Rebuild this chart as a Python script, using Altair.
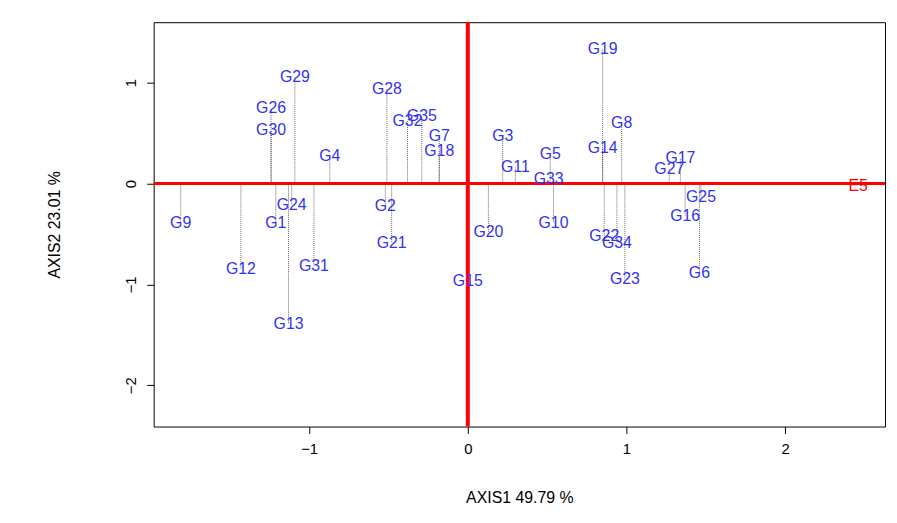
import altair as alt
import pandas as pd

labels = ["G29", "G26", "G30", "G28", "G35", "G32", "G7", "G18", "G4", "G3", "G11", "G5",
          "G33", "G19", "G8", "G14", "G17", "G27", "G25", "G16", "G6", "G23", "G22", "G34",
          "G10", "G20", "G15", "G2", "G21", "G24", "G1", "G9", "G12", "G31", "G13"]
axis1 = [-1.09, -1.24, -1.24, -0.51, -0.29, -0.38, -0.18, -0.18, -0.87, 0.22, 0.30, 0.52,
         0.51, 0.85, 0.97, 0.85, 1.34, 1.27, 1.47, 1.37, 1.46, 0.99, 0.86, 0.94,
         0.54, 0.13, 0.0, -0.52, -0.48, -1.11, -1.21, -1.81, -1.43, -0.97, -1.13]
axis2 = [1.06, 0.75, 0.53, 0.94, 0.67, 0.62, 0.47, 0.32, 0.27, 0.47, 0.16, 0.29,
         0.04, 1.33, 0.60, 0.35, 0.25, 0.14, -0.13, -0.32, -0.89, -0.95, -0.52, -0.59,
         -0.39, -0.48, -0.97, -0.22, -0.59, -0.21, -0.39, -0.39, -0.85, -0.82, -1.39]

env = pd.DataFrame({"label": ["E5"], "x": [2.46], "y": [-0.02]})
df = pd.DataFrame({"label": labels, "x": axis1, "y": axis2})
df["zero"] = 0.0

xs = alt.Scale(domain=[-1.98, 2.63], nice=False, zero=False)
ys = alt.Scale(domain=[-2.41, 1.60], nice=False, zero=False)

base = alt.Chart(df)

stems = base.mark_rule(color="black", strokeWidth=0.6, strokeDash=[1, 1]).encode(
    x=alt.X("x:Q", scale=xs, axis=alt.Axis(values=[-1, 0, 1, 2], title="AXIS1 49.79 %", format=".0f",
                                           grid=False, titlePadding=34, labelPadding=8)),
    y=alt.Y("zero:Q", scale=ys, axis=alt.Axis(values=[-2, -1, 0, 1], title="AXIS2 23.01 %", format=".0f",
                                              grid=False, titlePadding=62, labelPadding=8,
                                              labelAngle=-90, labelAlign="center", labelBaseline="bottom")),
    y2="y:Q",
)

text = base.mark_text(color="#3333ee", fontSize=16, font="Liberation Sans").encode(
    x=alt.X("x:Q", scale=xs), y=alt.Y("y:Q", scale=ys), text="label:N"
)

etext = alt.Chart(env).mark_text(color="red", fontSize=16, font="Liberation Sans").encode(
    x=alt.X("x:Q", scale=xs), y=alt.Y("y:Q", scale=ys), text="label:N"
)

hline = alt.Chart(pd.DataFrame({"v": [0]})).mark_rule(color="red", strokeWidth=3).encode(
    y=alt.Y("v:Q", scale=ys))
vline = alt.Chart(pd.DataFrame({"v": [0]})).mark_rule(color="red", strokeWidth=4).encode(
    x=alt.X("v:Q", scale=xs))

chart = alt.layer(stems, hline, vline, text, etext).properties(
    width=738, height=408,
    autosize=alt.AutoSizeParams(type="none"),
    padding={"left": 147, "top": 12, "right": 4, "bottom": 95},
).configure_view(stroke="black", strokeWidth=1).configure_axis(
    labelFont="Liberation Sans", titleFont="Liberation Sans", labelFontSize=15,
    titleFontSize=16, titleFontWeight="normal", labelColor="black", titleColor="black",
    domain=False, tickColor="black", tickSize=7
)

chart.save("out.html", embed_options={"renderer": "svg", "actions": False})
